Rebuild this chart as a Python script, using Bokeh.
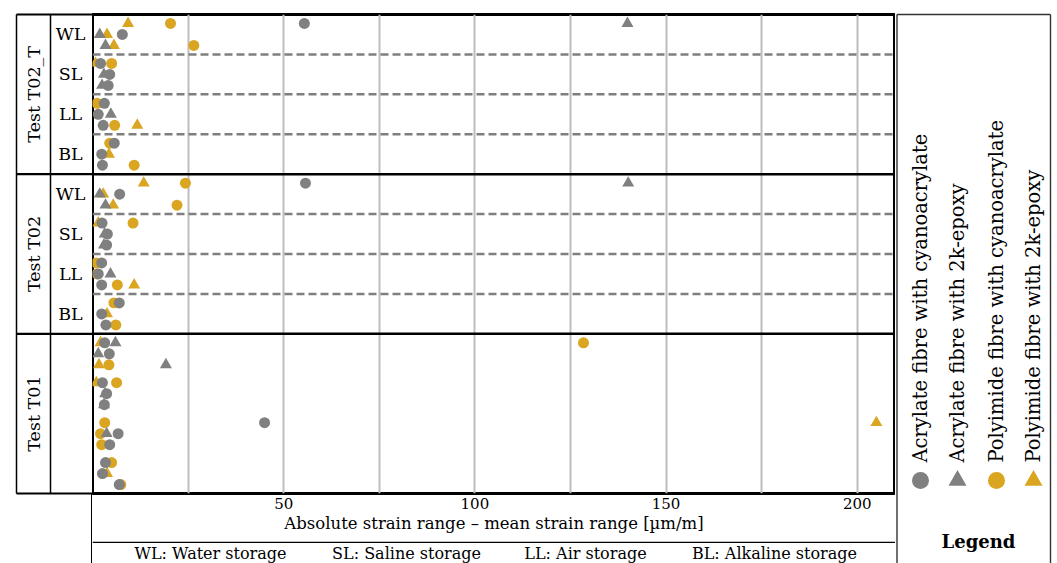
import math
from bokeh.plotting import figure
from bokeh.models import Range1d, FixedTicker, ColumnDataSource, Span
from bokeh.layouts import row, column
from bokeh.embed import file_html
from bokeh.resources import INLINE
from bokeh.core.properties import value

nan = float("nan")

# ---------------- data ----------------
panels = ["Test T02_T", "Test T02", "Test T01"]
storage_codes = ["WL", "SL", "LL", "BL"]
storage_names = ["WL: Water storage", "SL: Saline storage", "LL: Air storage", "BL: Alkaline storage"]
series_labels = ["Acrylate fibre with cyanoacrylate", "Acrylate fibre with 2k-epoxy",
                 "Polyimide fibre with cyanoacrylate", "Polyimide fibre with 2k-epoxy"]
x_ticks = [50, 100, 150, 200]
grid_ticks = [25, 50, 75, 100, 125, 150, 175, 200]
x_label = "Absolute strain range \u2013 mean strain range [\u00b5m/m]"

# rows: per panel 12 rows (4 storages x 3 specimens); order T02_T, T02, T01
acrylate_cyano = [55.4, 7.8, nan, 2.1, 4.5, 4.1, 3.1, 1.5, 2.8, 5.7, 2.4, 2.6,
                  55.7, 7.1, nan, 2.5, 3.9, 3.7, 2.4, 1.5, 2.4, 7.0, 2.4, 3.5,
                  3.2, 4.4, nan, 2.6, 3.7, 3.1, 45.0, 6.7, 4.5, 3.4, 2.6, 7.0]
acrylate_epoxy = [139.9, 1.9, 3.4, nan, 3.0, 2.5, nan, 4.8, nan, nan, nan, nan,
                  140.1, 1.9, 3.4, nan, 3.2, 3.0, nan, 4.7, nan, nan, nan, nan,
                  6.0, 1.5, 19.2, nan, 3.3, 3.0, nan, 3.7, nan, nan, nan, nan]
polyimide_cyano = [20.4, nan, 26.5, 5.0, nan, nan, 1.2, nan, 5.8, 4.5, nan, 10.9,
                   24.3, nan, 22.1, 10.6, nan, nan, 1.0, 1.2, 6.5, 5.6, nan, 6.1,
                   128.4, nan, 4.3, 6.3, nan, nan, 3.2, 2.1, 2.4, 5.0, nan, 7.4]
polyimide_epoxy = [9.3, 3.8, 5.6, 0.8, nan, nan, nan, nan, 11.7, nan, 4.3, nan,
                   13.4, 2.8, 5.4, 1.5, nan, nan, nan, nan, 10.9, nan, 3.8, nan,
                   2.1, nan, 1.7, 1.0, nan, nan, 205.0, nan, nan, nan, 3.8, nan]

# ---------------- styling / layout constants ----------------
FONT = "DejaVu Serif"
GREY = "#808080"
GOLD = "#DAA520"
W_LEFT, W_MAIN, W_RIGHT = 92, 803, 162
H_TOTAL, TOP, H_FRAME, H_AXIS = 563, 14, 479, 48
H_CAP = H_TOTAL - TOP - H_FRAME - H_AXIS
N_GROUPS = len(panels) * len(storage_codes)
GP = H_FRAME / N_GROUPS          # pixels per group unit
ROW_OFF = 11 / GP                 # specimen row offset in group units

def row_y(i):
    panel, j = divmod(i, 12)
    group, sub = divmod(j, 3)
    return panel * 4 + group + 0.5 + (sub - 1) * ROW_OFF

ys = [row_y(i) for i in range(len(acrylate_cyano))]

def base_fig(w, h, xr, yr, **kw):
    f = figure(width=w, height=h, x_range=xr, y_range=yr, toolbar_location=None,
               output_backend="svg", x_axis_location=None, y_axis_location=None, **kw)
    f.xgrid.visible = False
    f.ygrid.visible = False
    f.outline_line_color = None
    f.background_fill_color = "white"
    f.border_fill_color = "white"
    return f

# ---------------- main plot ----------------
pm = figure(width=W_MAIN, height=TOP + H_FRAME + H_AXIS,
            x_range=Range1d(0, 210), y_range=Range1d(N_GROUPS, 0),
            toolbar_location=None, output_backend="svg", y_axis_location=None,
            min_border_left=0, min_border_right=0, min_border_top=TOP, min_border_bottom=H_AXIS)
pm.outline_line_color = "black"
pm.outline_line_width = 3
pm.ygrid.visible = False
pm.xgrid.ticker = FixedTicker(ticks=grid_ticks)
pm.xgrid.grid_line_color = "#bdbdbd"
pm.xgrid.grid_line_width = 2
ax = pm.xaxis[0]
ax.ticker = FixedTicker(ticks=x_ticks)
ax.axis_line_color = None
ax.major_tick_line_color = None
ax.minor_tick_line_color = None
ax.major_tick_out = 0
ax.major_tick_in = 0
ax.major_label_standoff = 4
ax.major_label_text_font = FONT
ax.major_label_text_font_size = "15px"
ax.major_label_text_color = "black"
ax.axis_label = x_label
ax.axis_label_text_font = FONT
ax.axis_label_text_font_size = "16.5px"
ax.axis_label_text_font_style = "normal"
ax.axis_label_text_color = "black"
ax.axis_label_standoff = 2

# storage separators (dashed) in panels that have storage labels, thick panel separators
for p in range(len(panels) - 1):
    for g in range(1, len(storage_codes)):
        pm.add_layout(Span(location=p * 4 + g, dimension="width", line_color="#7f7f7f",
                           line_width=2.5, line_dash="8 4"))
for p in range(1, len(panels)):
    pm.add_layout(Span(location=p * 4, dimension="width", line_color="black", line_width=2.5))

src = ColumnDataSource(dict(y=ys, ac=acrylate_cyano, ae=acrylate_epoxy,
                            pc=polyimide_cyano, pe=polyimide_epoxy))
pm.scatter("pc", "y", source=src, marker="circle", size=11, fill_color=GOLD, line_color=None)
pm.scatter("pe", "y", source=src, marker="triangle", size=12, fill_color=GOLD, line_color=None)
pm.scatter("ae", "y", source=src, marker="triangle", size=12, fill_color=GREY, line_color=None)
pm.scatter("ac", "y", source=src, marker="circle", size=11, fill_color=GREY, line_color=None)

# ---------------- left strip table ----------------
pl = base_fig(W_LEFT, H_TOTAL, Range1d(0, W_LEFT),
              Range1d(start=N_GROUPS + (H_TOTAL - TOP - H_FRAME) / GP, end=-TOP / GP), min_border=0)
pl.segment(x0=[16, 50], y0=[0, 0], x1=[16, 50], y1=[N_GROUPS, N_GROUPS], line_color="black", line_width=1.5)
pl.segment(x0=[16] * 4, y0=[0, 4, 8, 12], x1=[W_LEFT] * 4, y1=[0, 4, 8, 12],
           line_color="black", line_width=[2, 2.2, 2.2, 2])
pl.segment(x0=[W_LEFT - 0.75], y0=[N_GROUPS], x1=[W_LEFT - 0.75], y1=[N_GROUPS + 5],
           line_color="black", line_width=1.5)
pl.text(x=[33] * len(panels), y=[p * 4 + 2 for p in range(len(panels))], text=panels,
        angle=math.pi / 2, text_align="center", text_baseline="middle",
        text_font=value(FONT), text_font_size="17.5px", text_color="black")
lab_x, lab_y, lab_t = [], [], []
for p in range(len(panels) - 1):
    for g, code in enumerate(storage_codes):
        lab_x.append(70)
        lab_y.append(p * 4 + g + 0.5)
        lab_t.append(code)
pl.text(x=lab_x, y=lab_y, text=lab_t, text_align="center", text_baseline="middle",
        text_font=value(FONT), text_font_size="17.5px", text_color="black")

# ---------------- caption below axis ----------------
pcap = base_fig(W_MAIN, H_CAP, Range1d(0, W_MAIN), Range1d(H_CAP, 0), min_border=0)
pcap.segment(x0=[0], y0=[0.75], x1=[W_MAIN], y1=[0.75], line_color="black", line_width=1.5)
pcap.text(x=[118, 314, 493, 682], y=[12] * 4, text=storage_names, text_align="center",
          text_baseline="middle", text_font=value(FONT), text_font_size="16px", text_color="black")

# ---------------- legend column ----------------
pr = base_fig(W_RIGHT, H_TOTAL, Range1d(0, W_RIGHT), Range1d(H_TOTAL, 0), min_border=0)
pr.segment(x0=[1.5, 1.5, 155], y0=[TOP, TOP, TOP], x1=[1.5, 155, 155], y1=[H_TOTAL, TOP, H_TOTAL],
           line_color="#333333", line_width=1.4)
leg_x = [25, 62, 101, 138]
pr.scatter(x=leg_x[0:1], y=[480], marker="circle", size=17, fill_color=GREY, line_color=None)
pr.scatter(x=leg_x[1:2], y=[480], marker="triangle", size=18, fill_color=GREY, line_color=None)
pr.scatter(x=leg_x[2:3], y=[480], marker="circle", size=17, fill_color=GOLD, line_color=None)
pr.scatter(x=leg_x[3:4], y=[480], marker="triangle", size=18, fill_color=GOLD, line_color=None)
pr.text(x=leg_x, y=[462] * 4, text=series_labels, angle=math.pi / 2, text_align="left",
        text_baseline="middle", text_font=value(FONT), text_font_size="19.5px", text_color="black")
pr.text(x=[83], y=[541], text=["Legend"], text_align="center", text_baseline="middle",
        text_font=value(FONT), text_font_size="18px", text_font_style="bold", text_color="black")

layout = row(pl, column(pm, pcap), pr)
open("out.html", "w").write(file_html(layout, INLINE))
